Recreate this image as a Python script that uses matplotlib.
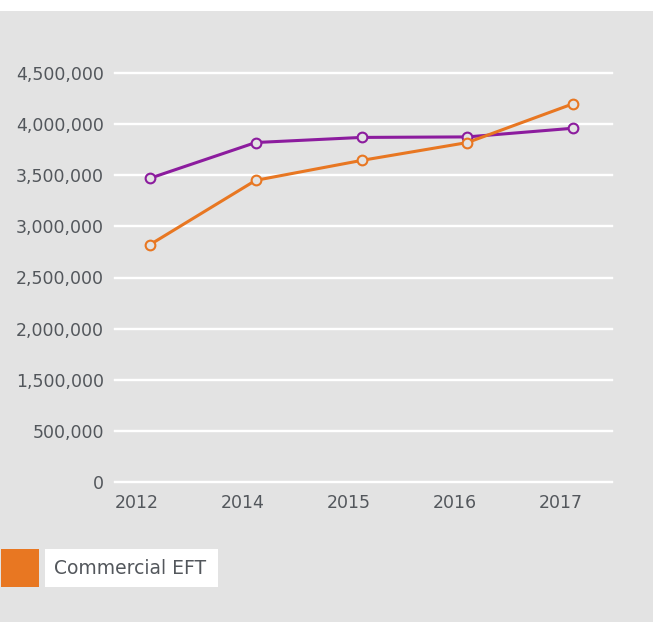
import numpy as np
import matplotlib
matplotlib.use("Agg")
import matplotlib.pyplot as plt
from matplotlib.patches import Rectangle

# --- Data ---
years = ["2012", "2014", "2015", "2016", "2017"]
purple_values = [3470000, 3820000, 3870000, 3875000, 3960000]
commercial_eft = [2820000, 3450000, 3645000, 3820000, 4200000]

# y tick labels as printed (the original skips 1,000,000)
ytick_values = [0, 500000, 1500000, 2000000, 2500000, 3000000, 3500000, 4000000, 4500000]
ytick_labels = ["0", "500,000", "1,500,000", "2,000,000", "2,500,000",
                "3,000,000", "3,500,000", "4,000,000", "4,500,000"]

BG = "#e3e3e3"
PURPLE = "#8c1c9e"
ORANGE = "#e87722"
TEXT = "#53575c"

# gridlines are evenly spaced, so map printed values onto their positions
grid_pos = np.arange(len(ytick_values)) * 500000


def to_axis(vals):
    return np.interp(vals, ytick_values, grid_pos)


plt.rcParams["font.family"] = ["DejaVu Sans"]

fig = plt.figure(figsize=(6.54, 6.22), dpi=100, facecolor="white")
fig.patches.append(Rectangle((0, 0), 653 / 654, (622 - 11) / 622,
                             transform=fig.transFigure, facecolor=BG,
                             edgecolor="none", zorder=-10))

ax = fig.add_axes([115 / 654, (622 - 482) / 622, 497 / 654, 409 / 622])
ax.set_facecolor("none")

x = np.arange(len(years))
ax.plot(x, to_axis(purple_values), color=PURPLE, lw=2.2, marker="o",
        ms=7, mfc=BG, mec=PURPLE, mew=1.5, zorder=3)
ax.plot(x, to_axis(commercial_eft), color=ORANGE, lw=2.2, marker="o",
        ms=7, mfc=BG, mec=ORANGE, mew=1.5, zorder=3)

ax.set_xlim(-0.328, 4.365)
ax.set_ylim(grid_pos[0], grid_pos[-1])

ax.set_yticks(grid_pos)
ax.set_yticklabels(ytick_labels)
ax.set_xticks(x - 0.118)
ax.set_xticklabels(years)

for s in ax.spines.values():
    s.set_visible(False)
ax.tick_params(axis="both", length=0, colors=TEXT, labelsize=12.5)
ax.tick_params(axis="y", pad=8)
ax.tick_params(axis="x", pad=9)

ax.grid(axis="y", color="white", lw=1.7, zorder=1)
ax.grid(axis="x", visible=False)
ax.set_axisbelow(True)
for line in ax.get_ygridlines():
    line.set_clip_on(False)

# legend: orange swatch plus white label box
fig.patches.append(Rectangle((1 / 654, (622 - 587) / 622), 38 / 654, 38 / 622,
                             transform=fig.transFigure, facecolor=ORANGE,
                             edgecolor="none"))
fig.patches.append(Rectangle((45 / 654, (622 - 587) / 622), 173 / 654, 38 / 622,
                             transform=fig.transFigure, facecolor="white",
                             edgecolor="none"))
fig.text(54 / 654, (622 - 568) / 622, "Commercial EFT", color=TEXT,
         fontsize=13.5, va="center", ha="left")

fig.savefig("out.png", dpi=100, facecolor="white")
